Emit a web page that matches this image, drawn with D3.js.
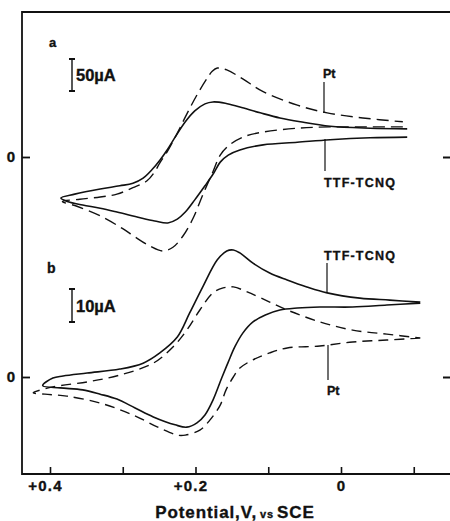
<!DOCTYPE html>
<html>
<head>
<meta charset="utf-8">
<script src="https://cdn.jsdelivr.net/npm/d3@7"></script>
<style>
  html, body { margin: 0; padding: 0; background: #fff; }
  svg { display: block; }
  text { font-family: "Liberation Sans", Arial, sans-serif; font-weight: bold; fill: #111; stroke: #111; stroke-width: 0.35; }
</style>
</head>
<body>
<svg id="chart" width="450" height="521"></svg>
<script>
// ---------------- DATA (potential in V vs SCE, current in µA) ----------------
// Panel a — TTF-TCNQ electrode (solid), path: return branch (right→left) then forward branch (left→right)
const aTtfV = [-0.091,-0.040,0.015,0.060,0.107,0.139,0.155,0.166,0.176,0.187,0.201,0.214,0.225,0.238,0.256,0.276,0.308,0.331,0.355,0.375,0.385,
               0.366,0.331,0.304,0.286,0.272,0.260,0.249,0.239,0.228,0.214,0.201,0.187,0.176,0.159,0.139,0.111,0.084,0.056,0.015,-0.040,-0.091];
const aTtfI = [31,30,27,23,19,11,3,-8,-27,-45,-67,-86,-97,-103,-100,-95,-86,-80,-75,-70,-64,
               -58,-50,-45,-41,-33,-20,-5,11,31,55,72,83,86,84,78,69,61,55,48,45,44];
// Panel a — Pt electrode (dashed)
const aPtV = [-0.085,-0.036,0.015,0.060,0.107,0.135,0.153,0.166,0.176,0.190,0.203,0.217,0.231,0.245,0.263,0.283,0.300,0.331,0.363,0.383,
              0.359,0.331,0.308,0.286,0.267,0.256,0.249,0.239,0.225,0.212,0.198,0.184,0.177,0.170,0.157,0.135,0.107,0.060,0.019,-0.030,-0.085];
const aPtI = [47,47,47,45,39,31,19,3,-23,-59,-95,-123,-141,-147,-139,-125,-112,-92,-77,-69.5,
              -66,-62.5,-58,-48,-37.5,-23,-9,8,37.5,67,97,123,134,139,136,122,102,81,69,61,55];
// Panel b — TTF-TCNQ electrode (solid)
const bTtfV = [-0.109,-0.063,-0.016,0.029,0.060,0.084,0.104,0.121,0.135,0.146,0.155,0.164,0.176,0.187,0.198,0.212,0.228,0.258,0.283,0.308,0.331,0.355,0.386,0.410,
               0.396,0.382,0.349,0.304,0.272,0.249,0.225,0.208,0.190,0.170,0.157,0.148,0.139,0.121,0.098,0.074,0.047,0.019,-0.026,-0.067,-0.109];
const bTtfI = [22.4,21.8,21.2,21.2,20.9,20.3,18.8,16.7,13.3,9.1,4.5,-0.3,-7.0,-11.5,-13.9,-15.2,-14.5,-12.1,-9.4,-6.7,-5.2,-3.9,-3.3,-2.6,
               -0.3,0.3,1.2,2.4,4.2,7.3,12.1,19.4,27.3,35.5,38.2,38.5,37.6,34.5,31.5,29.4,27.3,25.5,23.9,23.3,22.7];
// Panel b — Pt electrode (dashed)
const bPtV = [-0.109,-0.063,-0.016,0.029,0.074,0.098,0.121,0.139,0.148,0.158,0.166,0.180,0.194,0.214,0.225,0.249,0.286,0.331,0.377,0.407,0.423,
              0.396,0.349,0.304,0.258,0.231,0.212,0.194,0.176,0.162,0.148,0.129,0.098,0.074,0.029,-0.016,-0.063,-0.109];
const bPtI = [11.8,11.2,10.6,9.4,8.8,7.3,5.2,2.7,0,-3.9,-8.5,-13.0,-16.1,-17.6,-17.6,-15.5,-11.5,-7.9,-5.8,-5.2,-4.8,
              -3.0,-1.5,0.6,4.2,9.1,14.2,20.3,25.5,27.0,27.3,25.8,22.7,20.3,16.7,14.2,13.0,11.8];

const xTicks = [0.4, 0.3, 0.2, 0.1, 0, -0.1];
const xTickLabels = {"0.4": "+0.4", "0.2": "+0.2", "0": "0"};
const scaleBarA = 50;  // µA
const scaleBarB = 10;  // µA

// ---------------- SCALES ----------------
const svg = d3.select("#chart");
const x  = d3.scaleLinear().domain([0.4, 0]).range([50, 341]);
const yA = d3.scaleLinear().domain([0, 50]).range([157, 125]);
const yB = d3.scaleLinear().domain([0, 10]).range([377, 344]);

const L = 22, T = 12, B = 474, R = 450;

// ---------------- FRAME ----------------
svg.append("path")
  .attr("d", `M${R},${T} L${L},${T} L${L},${B} L${R},${B}`)
  .attr("fill", "none").attr("stroke", "#111").attr("stroke-width", 1.8);

// bottom axis ticks (inward)
const xAxis = d3.axisBottom(x).tickValues(xTicks).tickSizeInner(-7).tickSizeOuter(0).tickPadding(6)
  .tickFormat(d => xTickLabels[String(d)] || "");
const gx = svg.append("g").attr("transform", `translate(0,${B})`).call(xAxis);
gx.select(".domain").remove();
gx.selectAll(".tick line").attr("stroke", "#111").attr("stroke-width", 1.6);
gx.selectAll(".tick text")
  .attr("font-family", "Liberation Sans, Arial, sans-serif").attr("font-weight", "bold")
  .attr("font-size", 15).attr("letter-spacing", 1.2).attr("fill", "#111")
  .attr("dx", d => d > 0 ? -5 : 0);

// left zero ticks & right zero ticks for both panels
[yA, yB].forEach(ys => {
  const gl = svg.append("g").attr("transform", `translate(${L},0)`)
    .call(d3.axisLeft(ys).tickValues([0]).tickSizeInner(-8).tickSizeOuter(0).tickPadding(7).tickFormat(() => "0"));
  gl.select(".domain").remove();
  gl.selectAll(".tick line").attr("stroke", "#111").attr("stroke-width", 1.8);
  gl.selectAll(".tick text").attr("font-family", "Liberation Sans, Arial, sans-serif")
    .attr("font-weight", "bold").attr("font-size", 15).attr("fill", "#111");
  const gr = svg.append("g").attr("transform", `translate(${R},0)`)
    .call(d3.axisRight(ys).tickValues([0]).tickSizeInner(-7).tickSizeOuter(0).tickFormat(() => ""));
  gr.select(".domain").remove();
  gr.selectAll(".tick line").attr("stroke", "#111").attr("stroke-width", 2);
});

// ---------------- CURVES ----------------
function drawCurve(V, I, ys, dash) {
  const pts = V.map((v, i) => [v, I[i]]);
  const line = d3.line().x(d => x(d[0])).y(d => ys(d[1])).curve(d3.curveCatmullRom.alpha(0.5));
  svg.append("path").attr("d", line(pts))
    .attr("fill", "none").attr("stroke", "#111")
    .attr("stroke-width", dash ? 1.4 : 1.6)
    .attr("stroke-dasharray", dash || null)
    .attr("stroke-linejoin", "round");
}
drawCurve(aTtfV, aTtfI, yA, null);
drawCurve(aPtV, aPtI, yA, "12,6");
drawCurve(bTtfV, bTtfI, yB, null);
drawCurve(bPtV, bPtI, yB, "10,6");

// ---------------- SCALE BARS ----------------
function scaleBar(xp, ys, top, amount, label, labelY) {
  const y1 = top, y2 = top + (ys(0) - ys(amount));
  const g = svg.append("g").attr("stroke", "#111").attr("stroke-width", 1.4);
  g.append("line").attr("x1", xp).attr("x2", xp).attr("y1", y1).attr("y2", y2);
  g.append("line").attr("x1", xp - 3).attr("x2", xp + 3).attr("y1", y1).attr("y2", y1).attr("stroke-width", 2);
  g.append("line").attr("x1", xp - 3).attr("x2", xp + 3).attr("y1", y2).attr("y2", y2).attr("stroke-width", 2);
  svg.append("text").attr("x", xp + 4).attr("y", labelY).attr("font-size", 16.5).text(label);
}
scaleBar(72, yA, 59, scaleBarA, "50µA", 81);
scaleBar(72, yB, 289, scaleBarB, "10µA", 312);

// ---------------- PANEL LETTERS ----------------
svg.append("text").attr("x", 49).attr("y", 47).attr("font-size", 13).text("a");
svg.append("text").attr("x", 47).attr("y", 273).attr("font-size", 14).text("b");

// ---------------- ANNOTATIONS ----------------
function leader(xp, y1, y2) {
  svg.append("line").attr("x1", xp).attr("x2", xp).attr("y1", y1).attr("y2", y2)
    .attr("stroke", "#111").attr("stroke-width", 1.2);
}
leader(324, 82, 113);
svg.append("text").attr("x", 323).attr("y", 78).attr("font-size", 12.5).text("Pt");
leader(325, 139, 171);
svg.append("text").attr("x", 324).attr("y", 187).attr("font-size", 12.5).attr("letter-spacing", 1.2).text("TTF-TCNQ");
leader(327, 263, 293);
svg.append("text").attr("x", 324).attr("y", 260).attr("font-size", 12.5).attr("letter-spacing", 1.2).text("TTF-TCNQ");
leader(328, 345, 380);
svg.append("text").attr("x", 327).attr("y", 395).attr("font-size", 12.5).text("Pt");

// ---------------- AXIS TITLE ----------------
const title = svg.append("text").attr("x", 235).attr("y", 518).attr("text-anchor", "middle")
  .attr("font-size", 17).attr("letter-spacing", 0.9);
title.append("tspan").text("Potential,V,");
title.append("tspan").attr("font-size", 11).attr("dx", 3).text("vs");
title.append("tspan").attr("dx", 3).text("SCE");
</script>
</body>
</html>
